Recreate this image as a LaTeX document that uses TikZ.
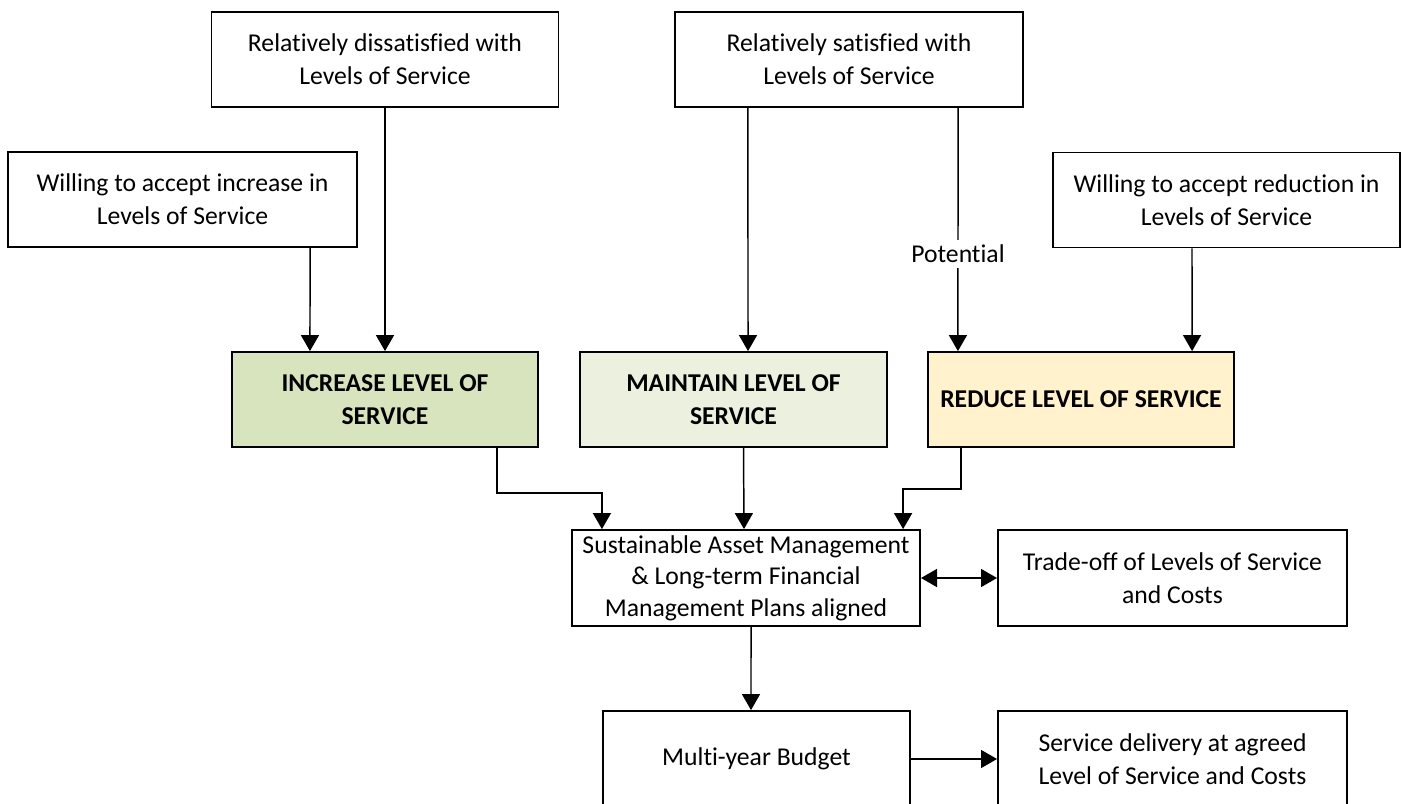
\documentclass[tikz,border=0pt]{standalone}
\usepackage{fontspec}
\setmainfont{Carlito}[Ligatures={NoCommon}]
\usetikzlibrary{arrows.meta}
\definecolor{incgreen}{HTML}{D7E4BD}
\definecolor{mntgreen}{HTML}{EBF1DE}
\definecolor{redyellow}{HTML}{FFF2CC}
\tikzset{
	lbox/.style={draw, line width=0.5pt, fill=white, align=center, inner sep=0pt, font=\fontsize{7.3}{9.3}\selectfont},
	sbox/.style={lbox, font=\fontsize{7.3}{9.2}\selectfont\bfseries},
	arr/.style={line width=0.42pt, -{Triangle[width=0.18cm,length=0.16cm]}}
}
\begin{document}
\begin{tikzpicture}[x=0.01cm, y=-0.01cm]
	\clip (0,0) rectangle (1403,803);
	\fill[white] (0,0) rectangle (1403,803);

	\node[lbox, minimum width=3.47cm, minimum height=0.95cm] (dis) at (385,59.5) {Relatively dissatisfied with\\Levels of Service};
	\node[lbox, minimum width=3.48cm, minimum height=0.95cm] (sat) at (849,59.5) {Relatively satisfied with\\Levels of Service};
	\node[lbox, minimum width=3.49cm, minimum height=0.95cm] (winc) at (182.5,199.5) {Willing to accept increase in\\Levels of Service};
	\node[lbox, minimum width=3.47cm, minimum height=0.95cm] (wred) at (1226.5,200) {Willing to accept reduction in\\Levels of Service};

	\node[sbox, fill=incgreen, minimum width=3.06cm, minimum height=0.95cm] (inc) at (385,399.5) {INCREASE LEVEL OF\\SERVICE};
	\node[sbox, fill=mntgreen, minimum width=3.07cm, minimum height=0.95cm] (mnt) at (733.5,399.5) {MAINTAIN LEVEL OF\\SERVICE};
	\node[sbox, fill=redyellow, minimum width=3.06cm, minimum height=0.95cm] (red) at (1081,399.5) {REDUCE LEVEL OF SERVICE};

	\node[lbox, font=\fontsize{7.3}{8.9}\selectfont, minimum width=3.48cm, minimum height=0.96cm] (sam) at (746,578) {Sustainable Asset Management\\\& Long-term Financial\\Management Plans aligned};
	\node[lbox, minimum width=3.49cm, minimum height=0.96cm] (trd) at (1172.5,578) {Trade-off of Levels of Service\\and Costs};
	\node[lbox, minimum width=3.07cm, minimum height=0.96cm] (bud) at (756.5,759) {Multi-year Budget};
	\node[lbox, minimum width=3.49cm, minimum height=0.96cm] (svc) at (1172.5,759) {Service delivery at agreed\\Level of Service and Costs};

	\draw[arr] ([xshift=1.275cm]winc.south) -- ([xshift=-0.75cm]inc.north);
	\draw[arr] (dis.south) -- (inc.north);
	\draw[arr] ([xshift=-1.01cm]sat.south) -- ([xshift=0.145cm]mnt.north);
	\draw[arr] ([xshift=1.09cm]sat.south) -- node[pos=0.6, fill=white, inner sep=1.5pt, font=\fontsize{7.3}{9.3}\selectfont] (pot) {Potential} ([xshift=-1.23cm]red.north);
	\draw[arr] ([xshift=-0.345cm]wred.south) -- ([xshift=1.11cm]red.north);

	\draw[arr] ([xshift=1.12cm]inc.south) -- ++(0,45) -| ([xshift=-1.44cm]sam.north);
	\draw[arr] ([xshift=0.1cm]mnt.south) -- ([xshift=-0.02cm]sam.north);
	\draw[arr] ([xshift=-1.2cm]red.south) -- ++(0,41) -| ([xshift=1.57cm]sam.north);

	\draw[arr, {Triangle[width=0.18cm,length=0.16cm]}-{Triangle[width=0.18cm,length=0.16cm]}] (sam.east) -- (trd.west);
	\draw[arr] ([xshift=0.05cm]sam.south) -- ([xshift=-0.055cm]bud.north);
	\draw[arr] (bud.east) -- (svc.west);
\end{tikzpicture}
\end{document}
